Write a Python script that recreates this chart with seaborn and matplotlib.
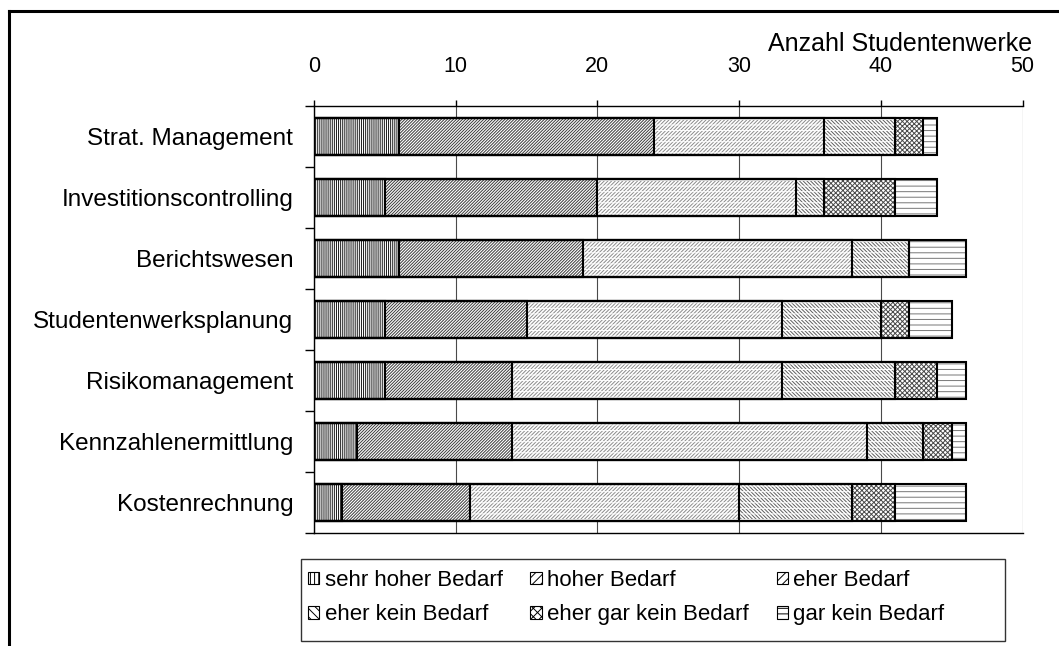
import matplotlib
matplotlib.use("Agg")
import matplotlib.pyplot as plt
from matplotlib.patches import Patch, Rectangle
from matplotlib.lines import Line2D
import numpy as np
import pandas as pd
import seaborn as sns

# ---- data -------------------------------------------------------------
categories = ["Strat. Management", "Investitionscontrolling", "Berichtswesen",
              "Studentenwerksplanung", "Risikomanagement",
              "Kennzahlenermittlung", "Kostenrechnung"]
levels = ["sehr hoher Bedarf", "hoher Bedarf", "eher Bedarf",
          "eher kein Bedarf", "eher gar kein Bedarf", "gar kein Bedarf"]
sehr_hoher = [6, 5, 6, 5, 5, 3, 2]
hoher = [18, 15, 13, 10, 9, 11, 9]
eher = [12, 14, 19, 18, 19, 25, 19]
eher_kein = [5, 2, 4, 7, 8, 4, 8]
eher_gar_kein = [2, 5, 0, 2, 3, 2, 3]
gar_kein = [1, 3, 4, 3, 2, 1, 5]
xticks = [0, 10, 20, 30, 40, 50]
axis_title = "Anzahl Studentenwerke"

df = pd.DataFrame({"Bereich": categories,
                   levels[0]: sehr_hoher, levels[1]: hoher, levels[2]: eher,
                   levels[3]: eher_kein, levels[4]: eher_gar_kein,
                   levels[5]: gar_kein})
cum = df[levels].cumsum(axis=1)

# ---- styles -----------------------------------------------------------
styles = {
    "sehr hoher Bedarf":    dict(hatch="|" * 8, color="#1a1a1a", bands=False),
    "hoher Bedarf":         dict(hatch="/" * 11, color="#3a3a3a", bands=False),
    "eher Bedarf":          dict(hatch="/" * 9, color="#8a8a8a", bands=True),
    "eher kein Bedarf":     dict(hatch="\\" * 9, color="#5e5e5e", bands=True),
    "eher gar kein Bedarf": dict(hatch="x" * 7, color="#4a4a4a", bands=False),
    "gar kein Bedarf":      dict(hatch="---", color="#777777", bands=False),
}

plt.rcParams["font.family"] = ["Liberation Sans", "DejaVu Sans"]
plt.rcParams["hatch.linewidth"] = 0.7

W, H = 1059, 646
fig = plt.figure(figsize=(W / 100, H / 100), dpi=100)
ax = fig.add_axes([314 / W, 1 - 532.7 / H, 708.5 / W, 427 / H])

BAR_W = 0.6


def new_bars(values, n_before):
    sns.barplot(x=values, y=df["Bereich"], order=categories, orient="h",
                color="white", saturation=1, width=BAR_W, linewidth=0,
                ax=ax, zorder=2)
    return ax.patches[n_before:]


# stacked segments: draw cumulative totals from longest to shortest
for lvl in reversed(levels):
    st = styles[lvl]
    for p in new_bars(cum[lvl], len(ax.patches)):
        p.set_facecolor("white")
        p.set_edgecolor(st["color"])
        p.set_hatch(st["hatch"])
        p.set_linewidth(0)
    if st["bands"]:
        for p in new_bars(cum[lvl], len(ax.patches)):
            p.set_facecolor("none")
            p.set_edgecolor("white")
            p.set_hatch("---")
            p.set_linewidth(0)

# black outlines around every segment
for lvl in levels:
    for p in new_bars(cum[lvl], len(ax.patches)):
        p.set_facecolor("none")
        p.set_edgecolor("black")
        p.set_linewidth(1.5)
        p.set_zorder(3)

# ---- axes -------------------------------------------------------------
ax.set_xlim(0, 50)
ax.set_ylim(len(categories) - 0.5, -0.5)
ax.xaxis.tick_top()
ax.set_xticks(xticks)
ax.set_xticklabels([str(t) for t in xticks])
ax.tick_params(axis="x", which="major", direction="out", length=4.5,
               width=1, pad=16.5, labelsize=15.5, colors="black")
ax.set_yticks(range(len(categories)))
ax.set_yticklabels(categories)
ax.tick_params(axis="y", which="major", length=0, pad=15, labelsize=17.5)
ax.set_yticks(np.arange(-0.5, len(categories)), minor=True)
ax.tick_params(axis="y", which="minor", length=6.5, width=1,
               direction="out", color="black")
ax.set_ylabel("")
ax.set_xlabel(axis_title, fontsize=18, ha="right", va="center")
ax.xaxis.set_label_position("top")
ax.xaxis.set_label_coords(1.0134, 1.128)

for s in ["top", "left", "bottom"]:
    ax.spines[s].set_color("black")
    ax.spines[s].set_linewidth(1)
ax.spines["right"].set_visible(False)
ax.grid(axis="x", color="#4a4a4a", linewidth=0.8)
ax.grid(axis="y", visible=False)
ax.set_axisbelow(True)
ax.set_facecolor("white")

# ---- legend -----------------------------------------------------------
handles = [Patch(facecolor="white", edgecolor="black", linewidth=0.8,
                 hatch=styles[l]["hatch"][:4], label=l) for l in levels]
order = [0, 3, 1, 4, 2, 5]
fig.legend([handles[i] for i in order], [levels[i] for i in order],
           ncol=3, loc="upper left",
           bbox_to_anchor=(308 / W, 1 - 570 / H),
           frameon=False, fontsize=16, handlelength=0.5, handleheight=0.5,
           handletextpad=0.25, columnspacing=1.25, labelspacing=0.6,
           borderpad=0, borderaxespad=0)
fig.add_artist(Rectangle((301 / W, 1 - 641 / H), 704 / W, 82 / H,
                         transform=fig.transFigure, facecolor="none",
                         edgecolor="#333333", linewidth=1))

# ---- outer frame (top and left edges) --------------------------------
fig.add_artist(Line2D([8.5 / W, 1.0], [1 - 11 / H, 1 - 11 / H],
                      transform=fig.transFigure, color="black",
                      linewidth=2.2, solid_capstyle="projecting"))
fig.add_artist(Line2D([8.5 / W, 8.5 / W], [0, 1 - 11 / H],
                      transform=fig.transFigure, color="black",
                      linewidth=2.2, solid_capstyle="projecting"))

fig.savefig("out.png", dpi=100, facecolor="white")
